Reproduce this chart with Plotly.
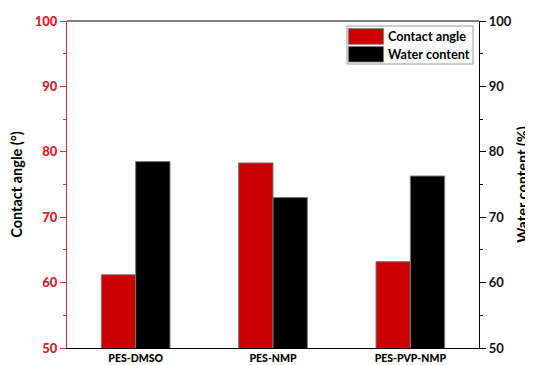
import plotly.graph_objects as go

categories = ["PES-DMSO", "PES-NMP", "PES-PVP-NMP"]
contact_angle = [61.2, 78.3, 63.2]
water_content = [78.5, 73.0, 76.3]
tick_vals = [50, 60, 70, 80, 90, 100]

RED = "#CC0000"
AXRED = "#E0303A"
LBLRED = "#D8202A"
FONT = "Lato"

# the page body has an 8px default margin; size the figure to fill the window
W, H = 525, 357
ML, MR, MT, MB = 59, 54, 13, 17

fig = go.Figure()
fig.add_trace(go.Bar(x=categories, y=contact_angle, name="Contact angle",
                     marker=dict(color=RED, line=dict(color="#7a7a7a", width=1)),
                     offsetgroup="1", yaxis="y", showlegend=False))
fig.add_trace(go.Bar(x=categories, y=water_content, name="Water content",
                     marker=dict(color="#000000", line=dict(color="#7a7a7a", width=1)),
                     offsetgroup="2", yaxis="y2", showlegend=False))

fig.update_layout(
    width=W, height=H,
    margin=dict(l=ML, r=MR, t=MT, b=MB, pad=0),
    paper_bgcolor="white", plot_bgcolor="white",
    barmode="group", bargap=0.5, bargroupgap=0,
    font=dict(family=FONT, size=12, color="black"),
    xaxis=dict(showline=True, linecolor="black", linewidth=1.2, mirror=False,
               automargin=False, ticklen=0, ticks="",
               tickfont=dict(family=FONT, size=10.5, color="black", weight=900),
               range=[-0.5, 2.5]),
    yaxis=dict(range=[50, 100], tickvals=tick_vals, showgrid=False, zeroline=False,
               automargin=False,
               showline=True, linecolor=AXRED, linewidth=1.2,
               ticks="outside", ticklen=6, tickcolor=AXRED, tickwidth=1.2,
               minor=dict(ticks="outside", ticklen=3, tickcolor=AXRED, dtick=5),
               tickfont=dict(family=FONT, size=13, color=LBLRED, weight=900),
               title=dict(text="Contact angle (°)", font=dict(family=FONT, size=14.5, weight="bold"), standoff=12)),
    yaxis2=dict(range=[50, 100], tickvals=tick_vals, overlaying="y", side="right",
                showgrid=False, zeroline=False, automargin=False,
                showline=True, linecolor="black", linewidth=1.2,
                ticks="outside", ticklen=6, tickcolor="black", tickwidth=1.2,
                minor=dict(ticks="outside", ticklen=3, tickcolor="black", dtick=5),
                tickfont=dict(family=FONT, size=13, color="#111111", weight="bold"),
                title=dict(text="Water content (%)", font=dict(family=FONT, size=14.5, weight="bold"), standoff=7)),
)

# top border
fig.add_shape(type="line", xref="paper", yref="paper", x0=0, x1=1, y0=1, y1=1,
              line=dict(color="black", width=1.2))

# custom legend (box, swatches, labels); positions given in window pixels
PW = W - ML - MR
PH = H - MT - MB
def px2x(px):
    return (px - 8 - ML) / PW

def py2y(py):
    return (8 + MT + PH - py) / PH

fig.add_shape(type="rect", xref="paper", yref="paper",
              x0=px2x(347), x1=px2x(473), y0=py2y(64), y1=py2y(26),
              line=dict(color="#9a9a9a", width=1), fillcolor="white")
legend_items = [("Contact angle", RED, 28.5, 44.3), ("Water content", "#000000", 46.5, 62)]
for label, col, ytop, ybot in legend_items:
    fig.add_shape(type="rect", xref="paper", yref="paper",
                  x0=px2x(348.5), x1=px2x(383.5), y0=py2y(ybot), y1=py2y(ytop),
                  line=dict(color="#7a7a7a", width=0.8), fillcolor=col)
    fig.add_annotation(xref="paper", yref="paper", x=px2x(386), y=py2y((ytop + ybot) / 2),
                       text=label, showarrow=False, xanchor="left", yanchor="middle",
                       font=dict(family=FONT, size=12.7, color="black", weight="bold"))

fig.write_html("out.html")
